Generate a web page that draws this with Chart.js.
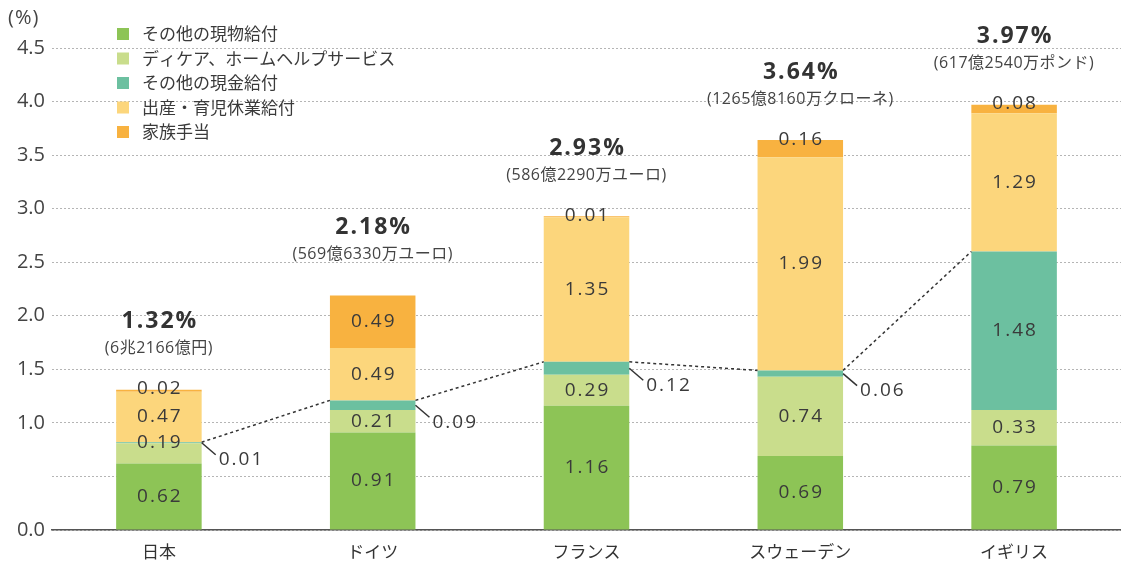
<!DOCTYPE html>
<html>
<head>
<meta charset="utf-8">
<script src="https://cdn.jsdelivr.net/npm/chart.js@4"></script>
<style>
  html, body { margin: 0; padding: 0; background: #fff; }
  #wrap { width: 1121px; height: 568px; position: relative; }
</style>
</head>
<body>
<div id="wrap"><canvas id="c" width="1121" height="568"></canvas></div>
<script>
const countries = ['日本', 'ドイツ', 'フランス', 'スウェーデン', 'イギリス'];

// stacked from bottom to top
const otherInKind = [0.62, 0.91, 1.16, 0.69, 0.79];
const daycare     = [0.19, 0.21, 0.29, 0.74, 0.33];
const otherCash   = [0.01, 0.09, 0.12, 0.06, 1.48];
const leave       = [0.47, 0.49, 1.35, 1.99, 1.29];
const familyAllow = [0.02, 0.49, 0.01, 0.16, 0.08];

const totals  = ['1.32%', '2.18%', '2.93%', '3.64%', '3.97%'];
const amounts = ['(6兆2166億円)', '(569億6330万ユーロ)', '(586億2290万ユーロ)', '(1265億8160万クローネ)', '(617億2540万ポンド)'];

const yTicks = [0, 0.5, 1.0, 1.5, 2.0, 2.5, 3.0, 3.5, 4.0, 4.5];
const yTickLabels = ['0.0', '', '1.0', '1.5', '2.0', '2.5', '3.0', '3.5', '4.0', '4.5'];

const seriesNames = ['その他の現物給付', 'ディケア、ホームヘルプサービス', 'その他の現金給付', '出産・育児休業給付', '家族手当'];
const seriesData = [otherInKind, daycare, otherCash, leave, familyAllow];
const colors = ['#8dc456', '#c9dd8c', '#6cc0a0', '#fcd67c', '#f8b240'];

const FONT = '"Noto Sans CJK JP", "Noto Sans", sans-serif';
const NUMFONT = '"Open Sans", "Noto Sans CJK JP", sans-serif';
const TEXT = '#3a3a3a';

const labelsPlugin = {
    id: 'segLabels',
    afterDatasetsDraw(chart) {
        const { ctx } = chart;
        ctx.save();

        // dotted connector across tops of cash segments
        const cash = chart.getDatasetMeta(2).data;
        ctx.strokeStyle = '#333';
        ctx.lineWidth = 1.5;
        ctx.setLineDash([3, 3]);
        for (let j = 0; j < cash.length - 1; j++) {
            const a = cash[j], b = cash[j + 1];
            ctx.beginPath();
            ctx.moveTo(a.x + a.width / 2, a.y);
            ctx.lineTo(b.x - b.width / 2, b.y);
            ctx.stroke();
        }
        ctx.setLineDash([]);

        ctx.fillStyle = TEXT;
        ctx.font = '19px ' + NUMFONT;
        ctx.letterSpacing = '2px';
        ctx.textBaseline = 'middle';
        chart.data.datasets.forEach((ds, i) => {
            const meta = chart.getDatasetMeta(i);
            meta.data.forEach((bar, j) => {
                const v = ds.data[j];
                const top = bar.y, bottom = bar.base;
                const h = bottom - top;
                const txt = v.toFixed(2);
                if (i === 2 && h < 25) {
                    const x0 = bar.x + bar.width / 2, y0 = (top + bottom) / 2;
                    ctx.strokeStyle = '#333';
                    ctx.lineWidth = 1.5;
                    ctx.beginPath();
                    ctx.moveTo(x0, y0);
                    ctx.lineTo(x0 + 14, y0 + 12);
                    ctx.stroke();
                    ctx.textAlign = 'left';
                    ctx.fillText(txt, x0 + 17, y0 + 17);
                } else if (h < 22) {
                    ctx.textAlign = 'center';
                    ctx.fillText(txt, bar.x + 1, top - 1);
                } else {
                    ctx.textAlign = 'center';
                    ctx.fillText(txt, bar.x + 1, (top + bottom) / 2);
                }
            });
        });

        // totals above bars
        const topBars = chart.getDatasetMeta(chart.data.datasets.length - 1).data;
        topBars.forEach((bar, j) => {
            ctx.textAlign = 'center';
            ctx.fillStyle = '#333';
            ctx.font = 'bold 23px ' + NUMFONT;
            ctx.letterSpacing = '2px';
            ctx.fillText(totals[j], bar.x + 1, bar.y - 68);
            ctx.fillStyle = '#444';
            ctx.font = '16px ' + NUMFONT;
            ctx.letterSpacing = '0.5px';
            ctx.fillText(amounts[j], bar.x, bar.y - 41);
        });

        // unit
        ctx.textAlign = 'left';
        ctx.fillStyle = '#444';
        ctx.font = '20px ' + NUMFONT;
        ctx.letterSpacing = '1px';
        ctx.fillText('(%)', 8, 18);
        ctx.letterSpacing = '0px';

        // legend
        ctx.font = '17px ' + FONT;
        seriesNames.forEach((name, i) => {
            const y = 34 + i * 24.5;
            ctx.fillStyle = colors[i];
            ctx.fillRect(117, y - 6, 12, 12);
            ctx.fillStyle = TEXT;
            ctx.fillText(name, 142, y);
        });
        ctx.restore();
    }
};

new Chart(document.getElementById('c'), {
    type: 'bar',
    data: {
        labels: countries,
        datasets: seriesData.map((d, i) => ({
            label: seriesNames[i],
            data: d,
            backgroundColor: colors[i],
            borderWidth: 0,
            barPercentage: 0.4,
            categoryPercentage: 1.0
        }))
    },
    options: {
        responsive: false,
        animation: false,
        layout: { padding: { top: 48, right: 0, left: 0, bottom: 0 } },
        plugins: {
            legend: { display: false },
            tooltip: { enabled: false }
        },
        scales: {
            x: {
                stacked: true,
                grid: { display: false, drawTicks: false },
                border: { display: true, color: '#555', width: 1.5 },
                ticks: { color: '#333', font: { size: 17, family: FONT }, padding: 11 },
                afterFit(s) { s.height = 38; }
            },
            y: {
                stacked: true,
                min: 0,
                max: 4.5,
                afterBuildTicks(s) { s.ticks = yTicks.map(v => ({ value: v })); },
                grid: { color: '#b5b5b5', lineWidth: 1, drawTicks: false },
                border: { display: false, dash: [2, 2] },
                ticks: {
                    color: '#444',
                    font: { size: 20, family: NUMFONT },
                    padding: 7,
                    callback(v, idx) { return yTickLabels[idx]; }
                },
                afterFit(s) { s.width = 52; }
            }
        }
    },
    plugins: [labelsPlugin]
});
</script>
</body>
</html>
